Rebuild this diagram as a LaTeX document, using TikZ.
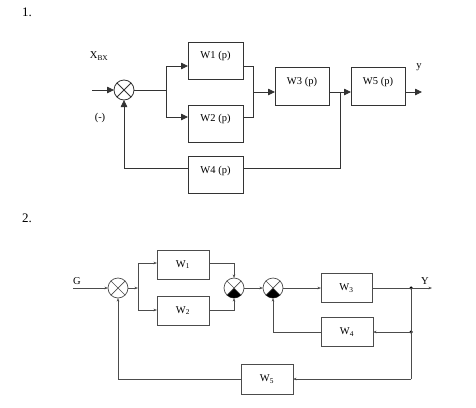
\documentclass[tikz,border=0pt]{standalone}
\usepackage{fontspec}
\setmainfont{Liberation Serif}
\usetikzlibrary{arrows.meta}
\begin{document}
\begin{tikzpicture}[x=1pt,y=-1pt,
  ln1/.style={draw=black!80, line width=0.8pt},
  arr1/.style={ln1, -{Triangle[length=7pt,width=6.5pt]}},
  box1/.style={ln1, rectangle, minimum width=55pt, minimum height=37pt, inner sep=0pt, outer sep=0pt},
  sum1/.style={ln1, circle, minimum size=20pt, inner sep=0pt, outer sep=0pt},
  ln2/.style={draw=black!70, line width=0.7pt},
  arr2/.style={ln2, -{Stealth[length=3.5pt,width=2.6pt]}},
  box2/.style={ln2, rectangle, minimum width=52pt, minimum height=29pt, inner sep=0pt, outer sep=0pt, font=\fontsize{10.5}{12}\selectfont},
  sum2/.style={ln2, circle, minimum size=20pt, inner sep=0pt, outer sep=0pt},
  lbl/.style={font=\fontsize{10.5}{12}\selectfont, inner sep=0pt},
  num/.style={font=\fontsize{13}{15}\selectfont, inner sep=0pt},
  dot/.style={circle, fill=black, minimum size=3.5pt, inner sep=0pt},
]
\useasboundingbox (0,0) rectangle (476,407);

% ---------- Part 1 ----------
\node[num] (n1) at (27,12) {1.};
\node[sum1] (s1) at (124,90) {};
\draw[ln1] (s1.north east) -- (s1.south west) (s1.north west) -- (s1.south east);
\coordinate (in1) at (92,90);
\node[lbl] (xbx) at (99,56) {X\textsubscript{ВХ}};
\node[lbl] (minus) at (100,118) {(-)};
\coordinate (b1) at (166,90);
\coordinate (a1) at (166,66);
\coordinate (a2) at (166,117);
\node[box1] (w1) at (215.5,60.5) {};
\node[box1] (w2) at (215.5,124) {};
\node[box1] (w4) at (215.5,174.5) {};
\node[box1, minimum width=54pt, minimum height=38pt] (w3) at (302,86) {};
\node[box1, minimum width=54pt, minimum height=38pt] (w5) at (378,86) {};
\node[lbl] (t1) at ([yshift=-13.5pt]w1.north) {W1 (p)};
\node[lbl] (t2) at ([yshift=-13.5pt]w2.north) {W2 (p)};
\node[lbl] (t4) at ([yshift=-15pt]w4.north) {W4 (p)};
\node[lbl] (t3) at ([yshift=-15pt]w3.north) {W3 (p)};
\node[lbl] (t5) at ([yshift=-15pt]w5.north) {W5 (p)};
\coordinate (j1) at (253,92);
\coordinate (j2) at (340,92);
\coordinate (o1) at (422,92);
\coordinate (f1) at (340,168);
\node[lbl] (ylab) at (419,67) {y};

\draw[arr1] (in1) -- (s1.west);
\draw[ln1] (s1.east) -- (b1);
\draw[arr1] (a2) -- (a1) -- (w1.west |- a1);
\draw[arr1] (a1) -- (a2) -- (w2.west |- a2);
\draw[ln1] (w1.east |- a1) -| (j1);
\draw[ln1] (w2.east |- a2) -| (j1);
\draw[arr1] (j1) -- (w3.west |- j1);
\draw[ln1] (w3.east |- j2) -- (j2);
\draw[arr1] (j2) -- (w5.west |- j2);
\draw[arr1] (w5.east |- o1) -- (o1);
\draw[ln1] (j2) -- (f1) -- (w4.east |- f1);
\draw[arr1] (w4.west |- f1) -| (s1.south);

% ---------- Part 2 ----------
\node[num] (n2) at (27,218) {2.};
\node[sum2] (s2a) at (118,288) {};
\node[sum2] (s2b) at (234,288) {};
\node[sum2] (s2c) at (273,288) {};
\draw[ln2] (s2a.north east) -- (s2a.south west) (s2a.north west) -- (s2a.south east);
\fill[black] (s2b.center) -- (s2b.south west) arc[start angle=135, end angle=45, radius=10] -- cycle;
\fill[black] (s2c.center) -- (s2c.south west) arc[start angle=135, end angle=45, radius=10] -- cycle;
\draw[ln2] (s2b.north east) -- (s2b.south west) (s2b.north west) -- (s2b.south east);
\draw[ln2] (s2c.north east) -- (s2c.south west) (s2c.north west) -- (s2c.south east);

\node[lbl] (g) at (77,281) {G};
\coordinate (gin) at (73,288);
\coordinate (b2) at (138,288);
\coordinate (b2u) at (138,263);
\coordinate (b2d) at (138,310);
\node[box2] (v1) at (183,264.5) {W\textsubscript{1}};
\node[box2] (v2) at (183,310.5) {W\textsubscript{2}};
\node[box2, minimum width=51pt] (v3) at (346.5,288) {W\textsubscript{3}};
\node[box2] (v4) at (347,332) {W\textsubscript{4}};
\node[box2, minimum height=30pt] (v5) at (267,379) {W\textsubscript{5}};
\coordinate (d1) at (411,288);
\coordinate (d2) at (411,332);
\coordinate (d3) at (411,379);
\coordinate (yout) at (432,288);
\node[dot] (dd1) at (d1) {};
\node[dot] (dd2) at (d2) {};
\node[lbl] (ylab2) at (425,281) {Y};

\draw[arr2] (gin) -- (s2a.west);
\draw[arr2] (s2a.east) -- (b2);
\draw[arr2] (b2d) -- (b2u) -- (v1.west |- b2u);
\draw[arr2] (b2u) -- (b2d) -- (v2.west |- b2d);
\draw[arr2] (v1.east |- b2u) -| (s2b.north);
\draw[arr2] (v2.east |- b2d) -| (s2b.south);
\draw[arr2] (s2b.east) -- (s2c.west);
\draw[arr2] (s2c.east) -- (v3.west);
\draw[ln2] (v3.east) -- (d1);
\draw[arr2] (d1) -- (yout);
\draw[ln2] (d1) -- (d3);
\draw[arr2] (d2) -- (v4.east);
\draw[arr2] (v4.west) -| (s2c.south);
\draw[arr2] (d3) -- (v5.east);
\draw[arr2] (v5.west) -| (s2a.south);
\end{tikzpicture}
\end{document}
